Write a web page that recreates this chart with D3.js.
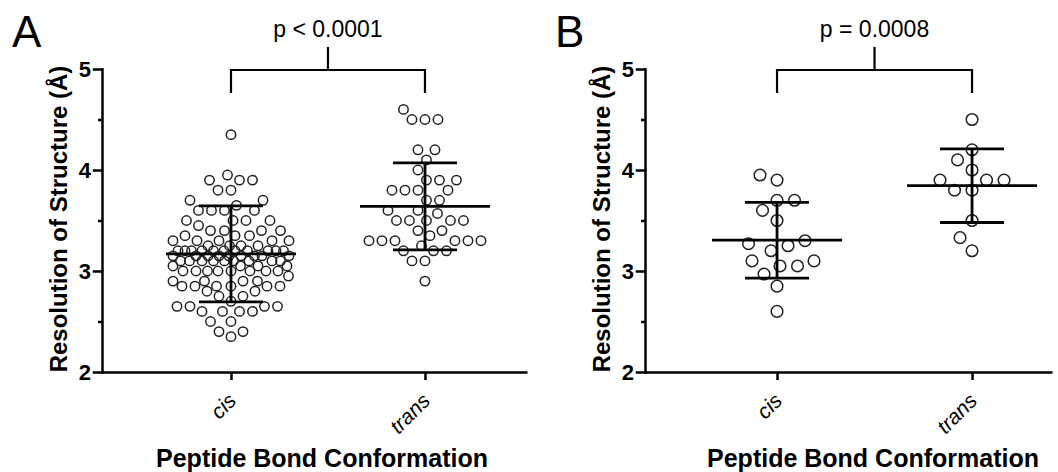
<!DOCTYPE html>
<html>
<head>
<meta charset="utf-8">
<script src="https://cdn.jsdelivr.net/npm/d3@7"></script>
<style>
  body { margin: 0; background: #fff; }
  text { font-family: "Liberation Sans", Arial, sans-serif; fill: #000; }
</style>
</head>
<body>
<div id="chart"></div>
<script>
const categories = ["cis", "trans"];

// panel A: all structures
const cisA = [4.35, 3.95, 3.9, 3.9, 3.9, 3.8, 3.8, 3.7, 3.7, 3.65,
  3.6, 3.6, 3.6, 3.6, 3.5, 3.5, 3.5, 3.5, 3.45, 3.4, 3.4, 3.4, 3.4,
  3.35, 3.35, 3.35, 3.3, 3.3, 3.3, 3.3, 3.3, 3.25, 3.25, 3.25, 3.25,
  3.2, 3.2, 3.2, 3.2, 3.2, 3.2, 3.2, 3.2, 3.2, 3.2, 3.2,
  3.15, 3.15, 3.15, 3.15, 3.15, 3.15, 3.15, 3.15, 3.15,
  3.1, 3.1, 3.1, 3.1, 3.1, 3.1, 3.1, 3.1, 3.1,
  3.05, 3.05, 3.05, 3.05, 3.0, 3.0, 3.0, 3.0, 3.0, 3.0, 3.0, 3.0, 2.95,
  2.9, 2.9, 2.9, 2.9, 2.85, 2.85, 2.85, 2.85, 2.85, 2.85, 2.8, 2.8,
  2.75, 2.75, 2.7, 2.65, 2.65, 2.65, 2.65, 2.6, 2.6, 2.6, 2.6,
  2.5, 2.5, 2.4, 2.4, 2.35];
const transA = [4.6, 4.5, 4.5, 4.5, 4.2, 4.2, 4.1, 4.0, 3.9, 3.9, 3.9,
  3.8, 3.8, 3.8, 3.8, 3.7, 3.7, 3.6, 3.6, 3.57, 3.5, 3.5, 3.5, 3.5, 3.5,
  3.4, 3.4, 3.35, 3.3, 3.3, 3.3, 3.3, 3.3, 3.3, 3.25, 3.2, 3.2, 3.2,
  3.1, 3.1, 2.9];
const meanA = [3.17, 3.64];
const sdA = [0.475, 0.43];

// panel B
const cisB = [3.95, 3.9, 3.7, 3.7, 3.6, 3.5, 3.3, 3.27, 3.25, 3.2,
  3.1, 3.1, 3.05, 3.05, 2.97, 2.85, 2.6];
const transB = [4.5, 4.2, 4.1, 4.0, 3.9, 3.9, 3.9, 3.8, 3.8, 3.5, 3.33, 3.2];
const meanB = [3.305, 3.845];
const sdB = [0.375, 0.365];

const panelLetters = ["A", "B"];
const pLabels = ["p < 0.0001", "p = 0.0008"];
const yTicks = [2, 3, 4, 5];
const yMinor = [2.5, 3.5, 4.5];
const yTitle = "Resolution of Structure (Å)";
const xTitle = "Peptide Bond Conformation";

const W = 1058, H = 472;
const svg = d3.select("#chart").append("svg")
  .attr("width", W).attr("height", H);

// simple beeswarm: closest free spot to the centre, overlap when crowded
function swarm(values, y, dmin, half) {
  const pts = values.map(v => ({ v, y: y(v) })).sort((a, b) => a.v - b.v);
  const cands = d3.range(-half, half + 0.01, 0.5)
    .sort((a, b) => Math.abs(a) - Math.abs(b) || a - b);
  const placed = [];
  pts.forEach(p => {
    let found = null, fb = 0, fbMin = -1;
    for (const x of cands) {
      let m = Infinity;
      for (const q of placed) {
        const dy = q.y - p.y;
        if (Math.abs(dy) >= dmin) continue;
        const d = Math.hypot(q.x - x, dy);
        if (d < m) m = d;
      }
      if (m >= dmin) { found = x; break; }
      if (m > fbMin + 1e-6) { fbMin = m; fb = x; }
    }
    p.x = found !== null ? found : fb;
    placed.push(p);
  });
  return placed;
}

function drawPanel(cfg) {
  const g = svg.append("g");
  const y = d3.scaleLinear().domain([2, 5]).range([372, 69]);
  const x = d3.scaleLinear().domain(cfg.xDomain).range([cfg.left, cfg.right]);

  // y axis
  const yAxis = g.append("g")
    .attr("transform", `translate(${cfg.left},0)`)
    .call(d3.axisLeft(y).tickValues(yTicks).tickFormat(d3.format("d"))
      .tickSize(8).tickSizeOuter(0).tickPadding(3));
  yAxis.selectAll("text").style("font-size", "22px").style("font-weight", "bold");
  yAxis.selectAll("line, path").attr("stroke", "#000").attr("stroke-width", 2.5)
    .attr("stroke-linecap", "square");
  g.append("g").attr("transform", `translate(${cfg.left},0)`)
    .call(d3.axisLeft(y).tickValues(yMinor).tickFormat("").tickSize(4).tickSizeOuter(0))
    .call(a => a.select(".domain").remove())
    .selectAll("line").attr("stroke", "#000").attr("stroke-width", 2.5);

  // x axis
  const xAxis = g.append("g")
    .attr("transform", `translate(0,${y(2)})`)
    .call(d3.axisBottom(x).tickValues([0, 1]).tickFormat(i => categories[i])
      .tickSize(8).tickSizeOuter(0));
  xAxis.selectAll("line, path").attr("stroke", "#000").attr("stroke-width", 2.5);
  xAxis.selectAll("text")
    .attr("dy", null).attr("y", null)
    .attr("text-anchor", "end")
    .attr("transform", "translate(6,30) rotate(-45)")
    .style("font-size", "21px").style("font-style", "italic");

  // points
  [cfg.cis, cfg.trans].forEach((vals, i) => {
    const cx = x(i);
    g.append("g").selectAll("circle")
      .data(swarm(vals, y, cfg.dmin, cfg.half))
      .join("circle")
      .attr("cx", d => cx + d.x)
      .attr("cy", d => d.y)
      .attr("r", cfg.r)
      .attr("fill", "none")
      .attr("stroke", "#222")
      .attr("stroke-width", 1.5);
  });

  // mean and SD
  cfg.mean.forEach((m, i) => {
    const cx = x(i), s = cfg.sd[i];
    const lg = g.append("g").attr("stroke", "#000").attr("stroke-width", 2.8);
    lg.append("line").attr("x1", cx - 65).attr("x2", cx + 65)
      .attr("y1", y(m)).attr("y2", y(m));
    lg.append("line").attr("x1", cx).attr("x2", cx)
      .attr("y1", y(m + s)).attr("y2", y(m - s));
    [m + s, m - s].forEach(v => lg.append("line")
      .attr("x1", cx - 32).attr("x2", cx + 32).attr("y1", y(v)).attr("y2", y(v)));
  });

  // significance bracket
  const bx0 = x(0), bx1 = x(1), mid = (bx0 + bx1) / 2;
  g.append("path")
    .attr("d", `M${bx0},93V70H${bx1}V93M${mid},70V47`)
    .attr("fill", "none").attr("stroke", "#000").attr("stroke-width", 2.2);
  g.append("text").attr("x", mid).attr("y", 37)
    .attr("text-anchor", "middle").style("font-size", "23px")
    .text(cfg.p);

  // titles
  g.append("text")
    .attr("transform", `translate(${cfg.left - 35},219) rotate(-90)`)
    .attr("text-anchor", "middle")
    .style("font-size", "24px").style("font-weight", "bold")
    .text(yTitle);
  g.append("text").attr("x", cfg.titleX).attr("y", 467)
    .attr("text-anchor", "middle")
    .style("font-size", "25px").style("font-weight", "bold")
    .text(xTitle);
  g.append("text").attr("x", cfg.letterX).attr("y", 47)
    .style("font-size", "44px")
    .text(cfg.letter);
}

drawPanel({
  letter: panelLetters[0], letterX: 12, p: pLabels[0],
  left: 102, right: 527, xDomain: [-0.665, 1.526], titleX: 322,
  cis: cisA, trans: transA, mean: meanA, sd: sdA,
  r: 4.7, dmin: 13, half: 58
});
drawPanel({
  letter: panelLetters[1], letterX: 555, p: pLabels[1],
  left: 645, right: 1052, xDomain: [-0.677, 1.41], titleX: 873,
  cis: cisB, trans: transB, mean: meanB, sd: sdB,
  r: 5.8, dmin: 17.5, half: 37
});
</script>
</body>
</html>
